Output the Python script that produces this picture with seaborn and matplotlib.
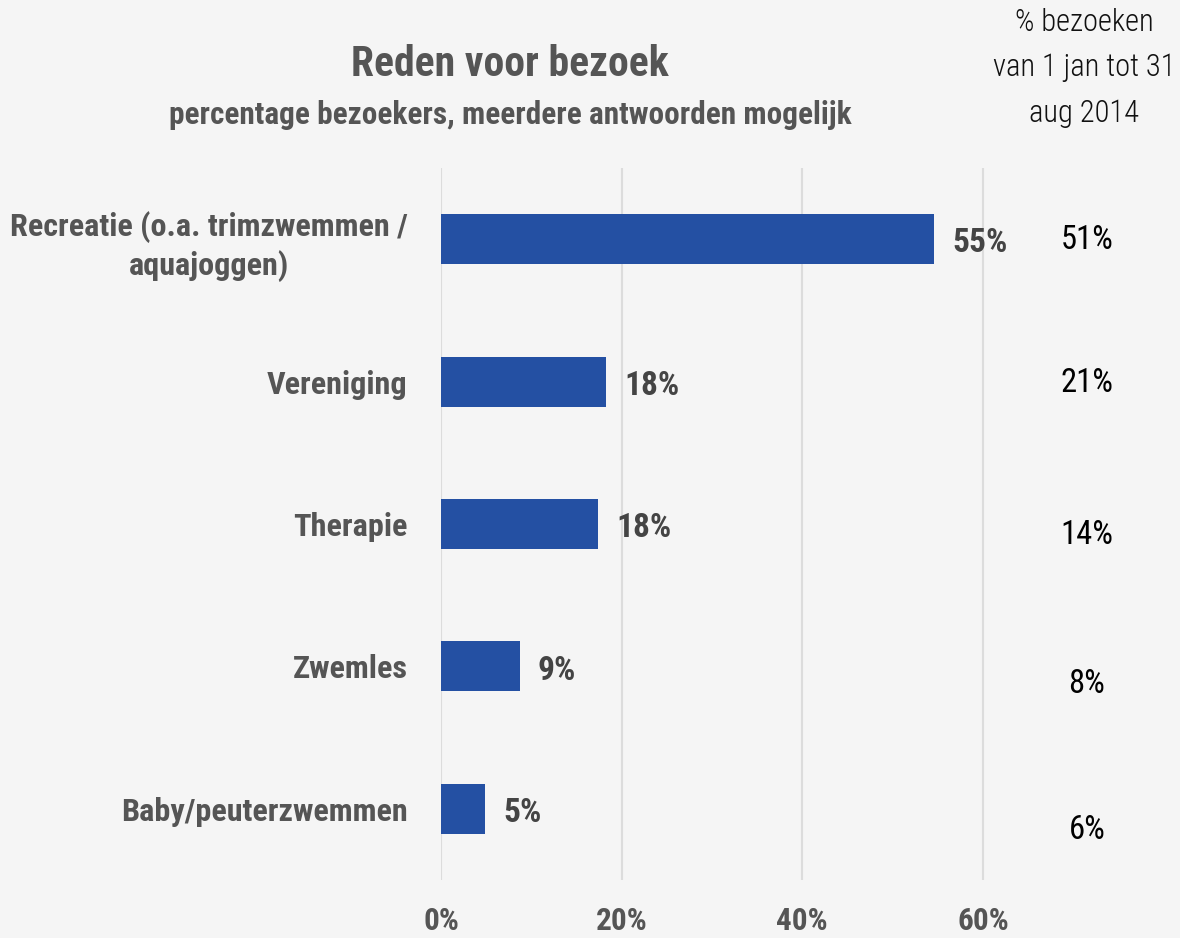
import matplotlib
matplotlib.use("Agg")
import matplotlib.pyplot as plt
import seaborn as sns
import pandas as pd

categories = ["Recreatie (o.a. trimzwemmen /\naquajoggen)", "Vereniging", "Therapie", "Zwemles", "Baby/peuterzwemmen"]
values = [54.6, 18.3, 17.4, 8.7, 4.9]
value_labels = ["55%", "18%", "18%", "9%", "5%"]
side_labels = ["51%", "21%", "14%", "8%", "6%"]
xticks = [0, 20, 40, 60]
xtick_labels = ["0%", "20%", "40%", "60%"]

BG = "#f5f5f5"
BAR = "#2450a3"
GRAY = "#555555"

sns.set_theme(style="white")
FAM = ["Roboto Condensed", "Noto Sans", "DejaVu Sans"]
plt.rcParams["font.family"] = FAM
plt.rcParams["font.stretch"] = "condensed"

df = pd.DataFrame({"cat": categories, "val": values})

fig = plt.figure(figsize=(11.8, 9.38), dpi=100, facecolor=BG)
ax = fig.add_axes([441/1180, 1 - 880/938, 560/1180, 712/938])
ax.set_facecolor(BG)

sns.barplot(data=df, x="val", y="cat", orient="h", color=BAR, width=0.35,
            saturation=1, ax=ax, zorder=3, linewidth=0)
ax.set_xlim(0, 62)
ax.set_ylim(4.5, -0.5)
ax.set_xticks(xticks)
ax.set_xticklabels(xtick_labels, fontsize=22.5, fontweight="bold", color=GRAY)
ax.tick_params(axis="x", length=0, pad=19)
ax.tick_params(axis="y", length=0, pad=24)
ax.set_yticks(range(len(categories)))
ax.set_yticklabels(categories, fontsize=23.2, fontweight="bold", color=GRAY)
for lbl in ax.get_yticklabels():
    lbl.set_multialignment("center")
    lbl.set_linespacing(1.3)
ax.set_xlabel("")
ax.set_ylabel("")
ax.grid(axis="x", color="#dcdcdc", linewidth=1.5, zorder=0)
ax.grid(axis="y", visible=False)
for s in ax.spines.values():
    s.set_visible(False)

for i, (v, t) in enumerate(zip(values, value_labels)):
    ax.text(v + 2.0, i + 0.03, t, va="center", ha="left", fontsize=24,
            fontweight="bold", color="#444444", zorder=4)

side_y = [240, 383, 535, 684, 830]
for t, yy in zip(side_labels, side_y):
    fig.text(1087/1180, 1 - yy/938, t, ha="center", va="center", fontsize=23.5,
             fontweight="normal", color="black")

fig.text(1084/1180, 1 - 68/938, "% bezoeken\nvan 1 jan tot 31\naug 2014", ha="center",
         va="center", fontsize=22, fontweight="light", color="#111111", linespacing=1.72)

fig.text(510/1180, 1 - 64/938, "Reden voor bezoek", ha="center", va="center",
         fontsize=30, fontweight="bold", color=GRAY)
fig.text(510/1180, 1 - 115/938, "percentage bezoekers, meerdere antwoorden mogelijk",
         ha="center", va="center", fontsize=22.5, fontweight="bold", color=GRAY)

fig.savefig("out.png", dpi=100, facecolor=BG)
